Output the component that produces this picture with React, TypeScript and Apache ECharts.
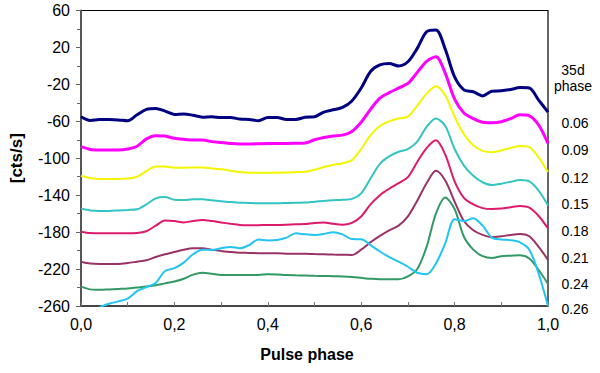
import React, { useEffect, useRef } from "react";
import * as echarts from "echarts";

const phases = Array.from({ length: 51 }, (_, i) => +(i * 0.02).toFixed(2));

const s006 = [-55, -59, -58, -58, -58.5, -59.5, -53, -47, -46, -49, -52.5, -52, -53.5, -55.5, -55, -56, -56, -57.5, -58, -59.3, -56, -56, -58, -58, -55.5, -55, -50, -47.5, -45, -38, -24, -6, 1, 2.5, 0, 4.5, 19, 37, 39, 18, -12, -26, -28, -32.5, -27.5, -27, -25.5, -23.5, -24, -37, -50];
const s009 = [-87.5, -90.5, -91, -91, -91, -90, -87, -79, -75.5, -76, -78.4, -79.5, -80.2, -80.2, -82, -83, -84, -84.6, -84.6, -84.3, -84, -84, -84, -83.8, -83.5, -80, -77.5, -75.8, -75, -71, -61, -47, -35, -29, -24, -19, -7, 5, 10, -8, -36, -51, -57, -61, -61.5, -60.4, -57, -53, -54, -64, -84];
const s012 = [-119, -121.5, -122.5, -122.5, -122.5, -122, -120, -114, -108.8, -109, -110.2, -110.2, -110, -110, -111, -112, -113.5, -115, -115.6, -115.6, -115.6, -115.6, -115.5, -115, -114.5, -112.5, -109.5, -107, -105.5, -102, -90, -75, -65, -60, -57, -55, -43, -30, -22, -32, -55, -74, -86, -92, -93.5, -91.5, -89, -86.7, -88, -99, -115];
const s015 = [-154.5, -156.5, -157, -157, -156.5, -156, -155.3, -150, -143.5, -142, -145, -145.2, -144.5, -144.5, -145.5, -146.5, -147.5, -148.1, -148.5, -148.8, -148.8, -148.8, -148.5, -148.1, -148, -147, -146.2, -145.5, -145, -144, -138, -122, -106, -98, -93, -90, -82, -66, -57, -65, -90, -108, -119, -126, -129, -127.5, -125.5, -123.5, -125, -135, -151];
const s018 = [-179.5, -181, -181.3, -181.3, -181.3, -181.3, -181, -179, -173, -167.5, -168, -169.5, -168, -167, -168, -169.5, -171, -172.3, -172.6, -172.5, -172.3, -172.3, -172, -171.5, -171.2, -170, -169.5, -171, -172, -170, -163, -150, -140, -133, -127, -120.5, -104, -89, -80.5, -96, -125, -143, -150, -154, -155, -154.5, -153, -151.7, -153.5, -162.5, -176];
const s021 = [-212, -214, -214.5, -214.5, -214.5, -213.5, -212, -210.5, -207, -204, -201.5, -199, -197.5, -197.5, -199, -200.5, -201.5, -202.3, -202.5, -202.9, -203, -203, -203.3, -203.5, -203.5, -203.8, -204, -204.3, -204.5, -204.8, -199, -191, -184, -178, -173, -163, -146, -127, -113.5, -124, -147, -168, -178, -183, -185.6, -184.5, -183, -182, -184.5, -196, -210];
const s024 = [-239, -242, -242.5, -242, -241.5, -241, -240, -239, -237.5, -235.5, -233.5, -230.5, -226, -224, -225, -226.4, -226.4, -226.4, -226.4, -226.4, -225.5, -225.8, -226.5, -226.8, -227, -227.3, -227.5, -227.7, -228, -228.5, -229.5, -230.5, -231.1, -231.1, -231.1, -228, -220, -196, -160, -142.5, -155, -185, -199, -206, -208, -206, -205.5, -205, -208.5, -221, -236];
const s026 = [null, null, -261, -257.5, -255, -252, -244, -239.5, -235, -222, -219, -213, -204, -199, -199.4, -197.5, -196, -197.5, -194, -188, -189, -188.5, -186, -181.3, -182.4, -183, -182, -180, -182.5, -187.5, -187.7, -194, -201, -207, -212, -217.5, -224, -225.5, -214, -192, -166, -168, -165, -173, -186, -188, -188.7, -191, -199, -225, -260];

const seriesNames = ["0.06", "0.09", "0.12", "0.15", "0.18", "0.21", "0.24", "0.26"];
const seriesValues = [s006, s009, s012, s015, s018, s021, s024, s026];
const seriesColors = ["#000080", "#FF00FF", "#F5F500", "#33C4C4", "#DD1A6C", "#993366", "#339966", "#22C4F0"];
const seriesWidths = [3, 3, 2, 2, 2, 2, 2, 2];

const xTickLabels: Record<string, string> = { "0": "0,0", "0.2": "0,2", "0.4": "0,4", "0.6": "0,6", "0.8": "0,8", "1": "1,0" };
const phaseLabelTitle = ["35d", "phase"];
const phaseLabelY = [123, 150, 178, 204, 231, 258, 284, 309];

export default function App() {
  const ref = useRef<HTMLDivElement>(null);
  useEffect(() => {
    if (!ref.current) return;
    const chart = echarts.init(ref.current, null, { renderer: "svg" });
    const font = "'Liberation Sans', Arial, sans-serif";
    chart.setOption({
      animation: false,
      backgroundColor: "#fff",
      grid: { left: 77, right: 52, top: 10.5, bottom: 67, show: true, borderColor: "#000", borderWidth: 1.2 },
      xAxis: {
        type: "value", min: 0, max: 1, interval: 0.2,
        axisLine: { show: true, onZero: false, lineStyle: { color: "#333", width: 1.5 } },
        axisTick: { show: true, inside: true, length: 4, lineStyle: { color: "#777" } },
        minorTick: { show: true, splitNumber: 2, length: 4, lineStyle: { color: "#777" } },
        splitLine: { show: false },
        axisLabel: { formatter: (v: number) => xTickLabels[String(+v.toFixed(1))] ?? "", fontSize: 16, color: "#000", fontFamily: font, margin: 10 },
        name: "Pulse phase", nameLocation: "middle", nameGap: 40,
        nameTextStyle: { fontSize: 16, fontWeight: "bold", color: "#000", fontFamily: font, padding: [0, 15, 0, 0] },
      },
      yAxis: {
        type: "value", min: -260, max: 60, interval: 40,
        axisLine: { show: true, onZero: false, lineStyle: { color: "#555", width: 2 } },
        axisTick: { show: true, length: 5, lineStyle: { color: "#666" } },
        minorTick: { show: true, splitNumber: 2, length: 4, lineStyle: { color: "#666" } },
        splitLine: { show: false },
        axisLabel: { fontSize: 16, color: "#000", fontFamily: font, margin: 11 },
        name: "[cts/s]", nameLocation: "middle", nameGap: 56,
        nameTextStyle: { fontSize: 17, fontWeight: "bold", color: "#000", fontFamily: font },
      },
      graphic: [
        { type: "text", x: 573, y: 62, style: { text: phaseLabelTitle.join("\n"), font: `14px ${font}`, fill: "#000", align: "center", lineHeight: 16 } },
        ...seriesNames.map((n, i) => ({
          type: "text", x: 575, y: phaseLabelY[i],
          style: { text: n, font: `14px ${font}`, fill: "#000", align: "center", verticalAlign: "middle" },
        })),
      ],
      series: seriesValues.map((vals, i) => ({
        name: seriesNames[i],
        type: "line",
        data: phases.map((p, j) => [p, vals[j]]),
        showSymbol: false,
        smooth: 0.3,
        clip: true,
        connectNulls: false,
        lineStyle: { color: seriesColors[i], width: seriesWidths[i] },
        itemStyle: { color: seriesColors[i] },
      })),
    });
    return () => chart.dispose();
  }, []);
  return <div ref={ref} style={{ width: 600, height: 373, position: "absolute", left: 0, top: 0 }} />;
}
